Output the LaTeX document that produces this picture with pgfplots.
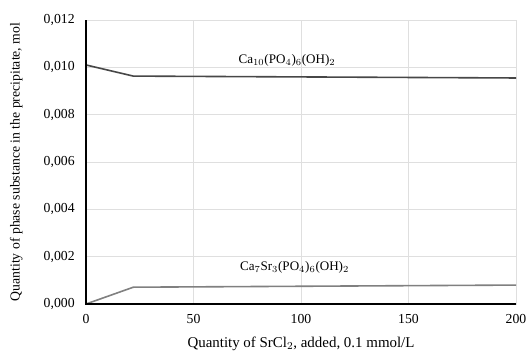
\documentclass[border=0pt]{standalone}
\usepackage{pgfplots}
\pgfplotsset{compat=1.18}
\usepackage{fontspec}
\setmainfont{Liberation Serif}
\begin{document}
\begin{tikzpicture}
\begin{axis}[
  scale only axis,
  width=322.5pt, height=213pt,
  xmin=0, xmax=200, ymin=0, ymax=0.012,
  xtick={0,50,100,150,200},
  ytick={0,0.002,0.004,0.006,0.008,0.010,0.012},
  scaled y ticks=false,
  /pgf/number format/assume math mode=true,
  yticklabel style={/pgf/number format/.cd, fixed, fixed zerofill, precision=3, use comma, /tikz/.cd, xshift=-5pt},
  xticklabel style={/pgf/number format/.cd, fixed, /tikz/.cd, yshift=-4pt},
  tick style={draw=none},
  grid=major,
  major grid style={draw=gray!25, line width=0.6pt},
  axis line style={draw=gray!25},
  ticklabel style={font=\fontsize{10.3}{12}\selectfont, text=black},
  label style={text=black},
  xlabel={Quantity of SrCl$_2$, added, 0.1 mmol/L},
  ylabel={Quantity of phase substance in the precipitate, mol},
  xlabel style={font=\fontsize{11.2}{13}\selectfont, at={(axis description cs:0.5,0)}, anchor=north, yshift=-21pt},
  ylabel style={font=\fontsize{10.3}{12}\selectfont, at={(axis description cs:0,0.5)}, anchor=south, yshift=44pt},
  clip=false,
]
\addplot[color=black!72, line width=1.2pt] coordinates {(0,0.0101) (22,0.00963) (200,0.00955)};
\addplot[color=black!50, line width=1.2pt] coordinates {(0,0.0) (22,0.00071) (200,0.0008)};
\draw[black, line width=1.5pt] (axis cs:0,0.012) -- (axis cs:0,0) -- (axis cs:200,0);
\node[font=\fontsize{9.8}{11}\selectfont, text=black] at (axis cs:93.5,0.0103) {Ca$_{10}$(PO$_4$)$_6$(OH)$_2$};
\node[font=\fontsize{9.8}{11}\selectfont, text=black] at (axis cs:97,0.00156) {Ca$_7$Sr$_3$(PO$_4$)$_6$(OH)$_2$};
\end{axis}
\pgfresetboundingbox
\path[use as bounding box] (-64.5pt,-37.5pt) rectangle (330.75pt,228pt);
\end{tikzpicture}
\end{document}
